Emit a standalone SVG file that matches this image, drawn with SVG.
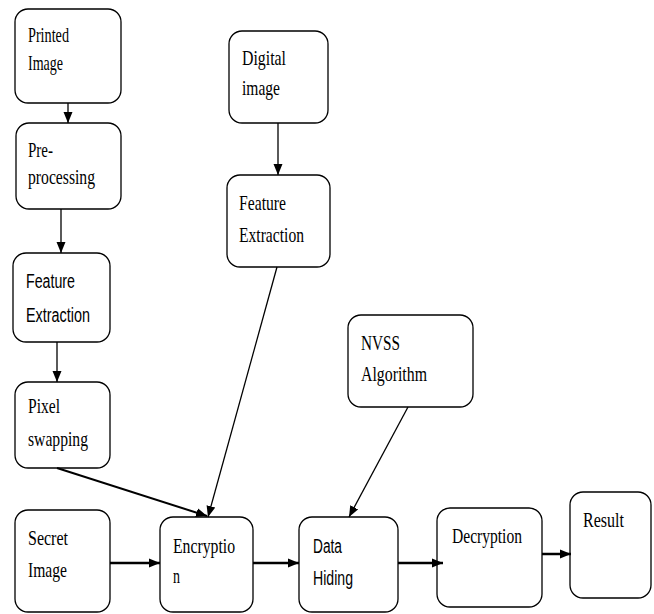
<svg xmlns="http://www.w3.org/2000/svg" width="654" height="614" viewBox="0 0 654 614">
<style>
.box{fill:#fff;stroke:#000;stroke-width:1.3}
.s{font-family:"Liberation Serif","Times New Roman",serif;font-size:21px;fill:#000}
.a{font-family:"Liberation Sans",Arial,sans-serif;font-size:20px;fill:#000}
.c{stroke:#000;fill:none}
</style>
<defs>
<marker id="ah" markerUnits="userSpaceOnUse" markerWidth="12" markerHeight="10" refX="11" refY="5" orient="auto">
<path d="M0,0.5 L11,5 L0,9.5 Z" fill="#000"/>
</marker>
</defs>
<g id="printed"><rect class="box" x="15" y="9" width="106" height="94" rx="13"/>
<text class="s" x="28" y="42" textLength="41" lengthAdjust="spacingAndGlyphs">Printed</text>
<text class="s" x="28" y="70" textLength="35" lengthAdjust="spacingAndGlyphs">Image</text></g>
<g id="pre"><rect class="box" x="16" y="123" width="105" height="86" rx="13"/>
<text class="s" x="28" y="157" textLength="25" lengthAdjust="spacingAndGlyphs">Pre-</text>
<text class="s" x="28" y="184" textLength="67" lengthAdjust="spacingAndGlyphs">processing</text></g>
<g id="feat1"><rect class="box" x="13" y="253" width="97" height="89" rx="13"/>
<text class="a" x="26" y="288" textLength="49" lengthAdjust="spacingAndGlyphs">Feature</text>
<text class="a" x="26" y="322" textLength="64" lengthAdjust="spacingAndGlyphs">Extraction</text></g>
<g id="pixel"><rect class="box" x="15" y="382" width="95" height="86" rx="13"/>
<text class="s" x="28" y="413" textLength="32" lengthAdjust="spacingAndGlyphs">Pixel</text>
<text class="s" x="28" y="446" textLength="60" lengthAdjust="spacingAndGlyphs">swapping</text></g>
<g id="digital"><rect class="box" x="229" y="31" width="99" height="92" rx="13"/>
<text class="s" x="242" y="65" textLength="44" lengthAdjust="spacingAndGlyphs">Digital</text>
<text class="s" x="242" y="95" textLength="38" lengthAdjust="spacingAndGlyphs">image</text></g>
<g id="feat2"><rect class="box" x="227" y="175" width="103" height="92" rx="13"/>
<text class="s" x="239" y="210" textLength="47" lengthAdjust="spacingAndGlyphs">Feature</text>
<text class="s" x="239" y="242" textLength="65" lengthAdjust="spacingAndGlyphs">Extraction</text></g>
<g id="nvss"><rect class="box" x="348" y="315" width="125" height="92" rx="13"/>
<text class="s" x="361" y="350" textLength="39" lengthAdjust="spacingAndGlyphs">NVSS</text>
<text class="s" x="361" y="381" textLength="66" lengthAdjust="spacingAndGlyphs">Algorithm</text></g>
<g id="secret"><rect class="box" x="15" y="510" width="95" height="102" rx="13"/>
<text class="s" x="28" y="545" textLength="40" lengthAdjust="spacingAndGlyphs">Secret</text>
<text class="s" x="28" y="577" textLength="39" lengthAdjust="spacingAndGlyphs">Image</text></g>
<g id="encryption"><rect class="box" x="160" y="517" width="93" height="95" rx="13"/>
<text class="s" x="173" y="553" textLength="62" lengthAdjust="spacingAndGlyphs">Encryptio</text>
<text class="s" x="173" y="583" textLength="7" lengthAdjust="spacingAndGlyphs">n</text></g>
<g id="datahiding"><rect class="box" x="299" y="517" width="99" height="95" rx="13"/>
<text class="a" x="313" y="553" textLength="29" lengthAdjust="spacingAndGlyphs">Data</text>
<text class="a" x="313" y="585" textLength="40" lengthAdjust="spacingAndGlyphs">Hiding</text></g>
<g id="decryption"><rect class="box" x="437" y="508" width="105" height="99" rx="13"/>
<text class="s" x="452" y="543" textLength="70" lengthAdjust="spacingAndGlyphs">Decryption</text></g>
<g id="result"><rect class="box" x="570" y="492" width="81" height="106" rx="13"/>
<text class="s" x="583" y="527" textLength="41" lengthAdjust="spacingAndGlyphs">Result</text></g>
<g id="connectors">
<line class="c" stroke-width="1.3" x1="68" y1="103" x2="68" y2="123" marker-end="url(#ah)"/>
<line class="c" stroke-width="1.3" x1="61" y1="209" x2="61" y2="253" marker-end="url(#ah)"/>
<line class="c" stroke-width="1.3" x1="57" y1="342" x2="57" y2="382" marker-end="url(#ah)"/>
<line class="c" stroke-width="1.3" x1="278" y1="123" x2="278" y2="175" marker-end="url(#ah)"/>
<line class="c" stroke-width="1.3" x1="277" y1="267" x2="208" y2="517" marker-end="url(#ah)"/>
<line class="c" stroke-width="2" x1="57" y1="468" x2="207" y2="516" marker-end="url(#ah)"/>
<line class="c" stroke-width="1.3" x1="408" y1="407" x2="349" y2="517" marker-end="url(#ah)"/>
<line class="c" stroke-width="2.5" x1="110" y1="563" x2="160" y2="563" marker-end="url(#ah)"/>
<line class="c" stroke-width="2.5" x1="253" y1="563" x2="299" y2="563" marker-end="url(#ah)"/>
<line class="c" stroke-width="2.5" x1="398" y1="563" x2="443" y2="563" marker-end="url(#ah)"/>
<line class="c" stroke-width="2.5" x1="542" y1="554" x2="571" y2="554" marker-end="url(#ah)"/>
</g>
</svg>
